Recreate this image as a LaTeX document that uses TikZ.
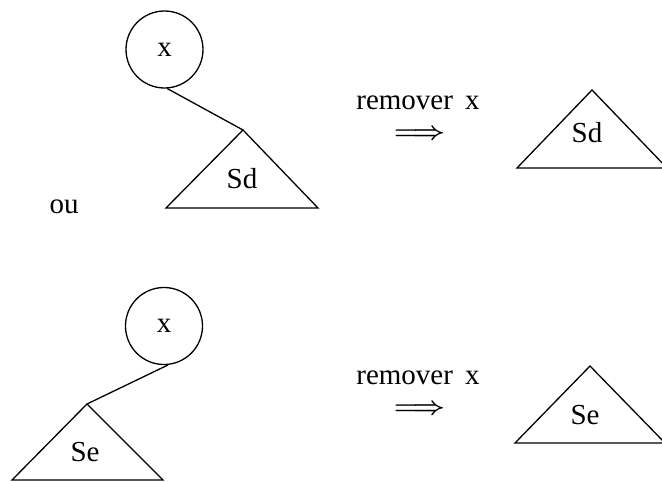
\documentclass[tikz,border=0pt]{standalone}
\usepackage{fontspec}
\usepackage{graphicx}
\setmainfont{Liberation Serif}
\newcommand{\implarrow}{\scalebox{1.12}[1]{\boldmath$\Longrightarrow$}}
\begin{document}
\begin{tikzpicture}[x=1pt,y=-1pt,
  lbl/.style={font=\fontsize{29}{32}\selectfont, inner sep=0pt},
  oplbl/.style={font=\fontsize{29}{30}\selectfont, inner sep=0pt, align=center, anchor=base},
  nodecirc/.style={draw, circle, line width=1.3pt, minimum size=77pt, inner sep=0pt, font=\fontsize{29}{32}\selectfont},
  edge/.style={line width=1.3pt},
  tri/.style={line width=1.3pt, line join=miter}]
\clip (0,0) rectangle (662,482);
% ---- upper case ----
\node[nodecirc] (c1) at (164.5,49.5) {x};
\coordinate (a1) at (243,130);
\coordinate (l1) at (166,208);
\coordinate (r1) at (318,208);
\draw[tri] (a1) -- (l1) -- (r1) -- cycle;
\node[lbl] (s1) at (242,179) {Sd};
\draw[edge] (c1.-86) -- (a1);
\node[lbl] (ou) at (64,207) {ou};
\node[oplbl] (op1) at (418,139) {remover\, x\\\hspace*{3pt}\implarrow};
\coordinate (a3) at (592,90);
\coordinate (l3) at (517,168);
\coordinate (r3) at (667,168);
\draw[tri] (a3) -- (l3) -- (r3) -- cycle;
\node[lbl] (s3) at (587,133) {Sd};
% ---- lower case ----
\node[nodecirc] (c2) at (164,326) {x};
\coordinate (a2) at (87,404);
\coordinate (l2) at (12,480);
\coordinate (r2) at (163,480);
\draw[tri] (a2) -- (l2) -- (r2) -- cycle;
\node[lbl] (s2) at (85,452) {Se};
\draw[edge] (c2.-84) -- (a2);
\node[oplbl] (op2) at (418,414) {remover\, x\\\hspace*{3pt}\implarrow};
\coordinate (a4) at (590,366);
\coordinate (l4) at (515,443);
\coordinate (r4) at (665,443);
\draw[tri] (a4) -- (l4) -- (r4) -- cycle;
\node[lbl] (s4) at (585,415) {Se};
\end{tikzpicture}
\end{document}
